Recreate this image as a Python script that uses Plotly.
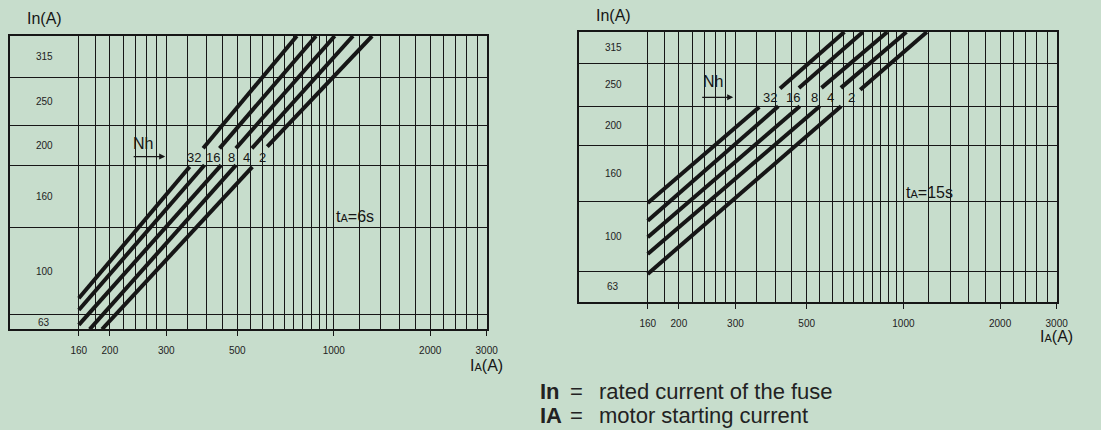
import math
import plotly.graph_objects as go

# ------------------------------------------------------------------ data
NH = [32, 16, 8, 4, 2]                       # starts per hour (curve labels)
BAND_LABELS = ["63", "100", "160", "200", "250", "315"]   # fuse rating bands In (A), bottom -> top

# band edges on the nomogram's In scale (0 = bottom, 100 = top of scale)
BAND_EDGES_6S = [0, 4.9, 34.8, 56.0, 69.4, 85.9, 100]
BAND_EDGES_15S = [0, 11.4, 37.3, 58.0, 72.5, 88.3, 100]

IA_TICKS = [160, 200, 300, 500, 1000, 2000, 3000]
IA_GRID = [180, 220, 240, 260, 280, 350, 400, 450, 550, 600, 650, 700, 750,
           800, 850, 900, 950, 1200, 1400, 1600, 1800, 2200, 2400, 2600, 2800]

# curves, tA = 6 s  (lower segment, gap for the label, upper segment)
IA_6S = [
    [160, 355, None, 391, 767],
    [160, 395, None, 440, 880],
    [160, 445, None, 495, 1007],
    [173, 495, None, 555, 1148],
    [189, 557, None, 620, 1317],
]
IN_6S = [
    [10.6, 55.4, None, 61.7, 100],
    [6.6, 56.0, None, 61.7, 100],
    [1.5, 56.0, None, 61.7, 100],
    [0.0, 56.0, None, 61.7, 100],
    [0.0, 55.4, None, 62.3, 100],
]

# curves, tA = 15 s
IA_15S = [
    [160, 356, None, 413, 655],
    [160, 408, None, 473, 748],
    [160, 476, None, 556, 891],
    [160, 549, None, 639, 1022],
    [160, 640, None, 734, 1183],
]
IN_15S = [
    [36.7, 72.2, None, 79.1, 100],
    [30.1, 72.5, None, 79.3, 100],
    [24.0, 72.5, None, 79.3, 100],
    [17.8, 72.5, None, 79.3, 100],
    [10.4, 72.5, None, 78.6, 100],
]

# where the Nh numbers sit along the curves
NH_LABEL_IA_6S = [367, 420, 478, 535, 598]
NH_LABEL_IA_15S = [385, 452, 527, 593, 688]

# ------------------------------------------------------------------ style
W, H = 1101, 430
BG = "#c7ddcc"
INK = "#161616"
FONT = "Liberation Sans, Arial, sans-serif"
IA_MIN, IA_MAX = 97.5, 3000
LOG_MIN, LOG_MAX = math.log10(IA_MIN), math.log10(IA_MAX)
COL_CENTER = (math.log10(160) - LOG_MIN) / (LOG_MAX - LOG_MIN) / 2

panels = [
    dict(sfx="", xdom=[10 / W, 492 / W], ydom=[1 - 329.3 / H, 1 - 36 / H],
         IA=IA_6S, IN=IN_6S, edges=BAND_EDGES_6S,
         lab_ia=NH_LABEL_IA_6S, lab_y=58.6,
         nh_pos=(254.6, 63.4), arrow=(234.8, 297.7, 58.9),
         t_text="t<span style='font-size:11px'>A</span>=6s", t_pos=(1161, 38.4),
         title_shift=-36),
    dict(sfx="2", xdom=[585 / W, 1068.3 / W], ydom=[1 - 302 / H, 1 - 32 / H],
         IA=IA_15S, IN=IN_15S, edges=BAND_EDGES_15S,
         lab_ia=NH_LABEL_IA_15S, lab_y=75.8,
         nh_pos=(254.8, 81.7), arrow=(233.9, 295.2, 75.8),
         t_text="t<span style='font-size:11px'>A</span>=15s", t_pos=(1206, 40.5),
         title_shift=-34),
]

fig = go.Figure()
annotations = []
layout_axes = {}

for p in panels:
    s = p["sfx"]
    xname, yname = "x" + s, "y" + s
    for ia_row, in_row in zip(p["IA"], p["IN"]):
        fig.add_trace(go.Scatter(
            x=ia_row, y=in_row, mode="lines", xaxis=xname, yaxis=yname,
            line=dict(color=INK, width=4), connectgaps=False,
            hoverinfo="skip", showlegend=False))

    layout_axes["xaxis" + s] = dict(
        domain=p["xdom"], type="log", range=[LOG_MIN, LOG_MAX], anchor=yname,
        tickmode="array", tickvals=IA_TICKS, ticktext=[str(v) for v in IA_TICKS],
        ticks="outside", ticklen=5, tickwidth=1, tickcolor=INK,
        showgrid=True, gridcolor=INK, gridwidth=1,
        minor=dict(tickmode="array", tickvals=IA_GRID, showgrid=True,
                   gridcolor=INK, gridwidth=1, ticks=""),
        showline=True, mirror=True, linecolor=INK, linewidth=1.5,
        tickfont=dict(size=10, color="#222", family=FONT),
        ticklabelstandoff=6, zeroline=False, fixedrange=True)
    layout_axes["yaxis" + s] = dict(
        domain=p["ydom"], range=[0, 100], anchor=xname,
        tickmode="array", tickvals=p["edges"][1:-1], showticklabels=False,
        ticks="", showgrid=True, gridcolor=INK, gridwidth=1,
        showline=True, mirror=True, linecolor=INK, linewidth=1.5,
        zeroline=False, fixedrange=True)

    edges = p["edges"]
    for j, lab in enumerate(BAND_LABELS):
        annotations.append(dict(
            text=lab, xref=xname + " domain", yref=yname,
            x=COL_CENTER, y=(edges[j] + edges[j + 1]) / 2,
            xanchor="center", yanchor="middle",
            showarrow=False, font=dict(size=10, color="#222", family=FONT)))

    for nh, ia in zip(NH, p["lab_ia"]):
        annotations.append(dict(
            text=str(nh), xref=xname, yref=yname, x=math.log10(ia), y=p["lab_y"],
            xanchor="center", yanchor="middle",
            showarrow=False, font=dict(size=13, color=INK, family=FONT)))

    annotations.append(dict(
        text="Nh", xref=xname, yref=yname, x=math.log10(p["nh_pos"][0]), y=p["nh_pos"][1],
        xanchor="center", yanchor="middle",
        showarrow=False, font=dict(size=16, color=INK, family=FONT)))
    a0, a1, ay = p["arrow"]
    annotations.append(dict(
        text="", xref=xname, yref=yname, x=math.log10(a1), y=ay,
        axref=xname, ayref=yname, ax=math.log10(a0), ay=ay,
        showarrow=True, arrowhead=2, arrowsize=1, arrowwidth=1.2, arrowcolor=INK))
    annotations.append(dict(
        text=p["t_text"], xref=xname, yref=yname, x=math.log10(p["t_pos"][0]), y=p["t_pos"][1],
        xanchor="center", yanchor="middle",
        showarrow=False, font=dict(size=16, color=INK, family=FONT)))
    annotations.append(dict(
        text="In(A)", xref=xname + " domain", yref=yname + " domain",
        x=COL_CENTER, y=1, yshift=17, xanchor="center", yanchor="middle", showarrow=False,
        font=dict(size=16, color=INK, family=FONT)))
    annotations.append(dict(
        text="I<span style='font-size:11px'>A</span>(A)", xref=xname + " domain",
        yref=yname + " domain", x=1, y=0, yshift=p["title_shift"],
        xanchor="center", yanchor="middle", showarrow=False,
        font=dict(size=16, color=INK, family=FONT)))

# footer legend
for txt, desc, ypx in [("In", "rated current of the fuse", 391), ("IA", "motor starting current", 415)]:
    annotations.append(dict(text="<b>" + txt + "</b>", xref="paper", yref="paper",
                            x=544 / W, y=1 - ypx / H, xanchor="left", yanchor="middle",
                            showarrow=False, font=dict(size=22, color="#222", family=FONT)))
    annotations.append(dict(text="=", xref="paper", yref="paper",
                            x=583 / W, y=1 - ypx / H, xanchor="center", yanchor="middle",
                            showarrow=False, font=dict(size=22, color="#222", family=FONT)))
    annotations.append(dict(text=desc, xref="paper", yref="paper",
                            x=604 / W, y=1 - ypx / H, xanchor="left", yanchor="middle",
                            showarrow=False, font=dict(size=22, color="#222", family=FONT)))

fig.update_layout(
    width=W, height=H, margin=dict(l=0, r=0, t=0, b=0),
    paper_bgcolor=BG, plot_bgcolor=BG, showlegend=False,
    annotations=annotations, **layout_axes)

fig.write_html("out.html", config={"displayModeBar": False},
               post_script="document.body.style.margin='0';document.body.style.overflow='hidden';"
                           "document.body.style.background='" + BG + "';")
